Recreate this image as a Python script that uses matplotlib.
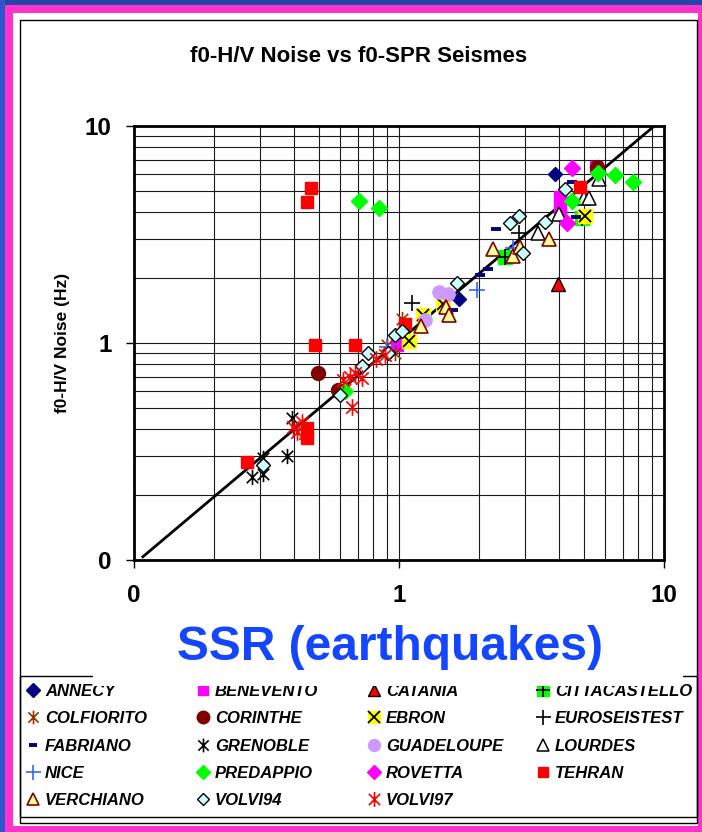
import matplotlib
matplotlib.use('Agg')
import matplotlib.pyplot as plt
from matplotlib.path import Path
from matplotlib.patches import Rectangle
from matplotlib.ticker import LogLocator, NullFormatter

plt.rcParams['font.family'] = ['Liberation Sans', 'DejaVu Sans']

# --- donnees (f0 SSR, f0 H/V) ---
annecy_x = [3.88, 1.68]
annecy_y = [6.0, 1.59]
benevento_x = [5.55, 4.05, 4.05, 0.98]
benevento_y = [6.5, 4.7, 4.1, 0.98]
catania_x = [3.97]
catania_y = [1.88]
citta_x = [2.52, 4.9]
citta_y = [2.49, 3.76]
colfiorito_x = [1.03, 0.90, 0.97]
colfiorito_y = [1.29, 0.98, 0.90]
corinthe_x = [0.495, 5.6, 0.59]
corinthe_y = [0.725, 6.5, 0.607]
ebron_x = [5.03, 1.09, 1.23, 1.47]
ebron_y = [3.85, 1.02, 1.34, 1.51]
euro_x = [1.12, 2.84]
euro_y = [1.53, 3.2]
fabriano_x = [2.33, 4.49, 4.67, 2.17, 2.03, 1.60]
fabriano_y = [3.34, 5.53, 3.82, 2.19, 2.06, 1.42]
grenoble_x = [0.393, 0.377, 0.308, 0.308, 0.278]
grenoble_y = [0.45, 0.301, 0.294, 0.249, 0.242]
guadeloupe_x = [1.42, 1.53, 1.25]
guadeloupe_y = [1.72, 1.69, 1.28]
lourdes_x = [5.68, 4.97, 5.19, 4.03, 3.36]
lourdes_y = [5.7, 4.65, 4.65, 3.93, 3.22]
nice_x = [1.97, 0.90, 2.70]
nice_y = [1.75, 0.96, 2.73]
predappio_x = [0.708, 0.843, 0.625, 5.63, 6.53, 7.64, 4.49]
predappio_y = [4.51, 4.2, 0.60, 6.07, 5.95, 5.53, 4.49]
rovetta_x = [4.49, 4.3]
rovetta_y = [6.38, 3.58]
tehran_x = [0.466, 0.448, 0.482, 0.682, 1.05, 0.449, 0.449, 0.266, 4.8]
tehran_y = [5.2, 4.48, 0.98, 0.98, 1.22, 0.405, 0.364, 0.284, 5.25]
verchiano_x = [3.68, 2.27, 2.70, 2.86, 1.21, 1.51, 1.55]
verchiano_y = [3.01, 2.70, 2.52, 2.78, 1.20, 1.47, 1.34]
volvi94_x = [2.84, 2.62, 3.56, 4.23, 2.94, 1.65, 0.966, 1.03, 0.91, 0.766, 0.723, 0.598, 0.308]
volvi94_y = [3.85, 3.57, 3.62, 5.11, 2.59, 1.90, 1.09, 1.13, 0.90, 0.897, 0.783, 0.575, 0.274]
volvi97_x = [0.663, 0.617, 0.683, 0.723, 0.654, 0.818, 0.887, 0.399, 0.429, 0.442, 0.411]
volvi97_y = [0.506, 0.675, 0.724, 0.687, 0.70, 0.845, 0.877, 0.411, 0.434, 0.384, 0.39]

# droite de tendance (extremites)
trend_x = [0.108, 9.1]
trend_y = [0.1035, 9.9]

W, H = 702, 832
fig = plt.figure(figsize=(W / 100, H / 100), dpi=100)
fig.patch.set_facecolor('#FF33CC')


def rect(x0, y0, x1, y1, **kw):
    # rectangle en pixels (origine en haut a gauche)
    r = Rectangle((x0 / W, 1 - y1 / H), (x1 - x0) / W, (y1 - y0) / H,
                  transform=fig.transFigure, **kw)
    fig.add_artist(r)
    return r


# cadre exterieur bleu / rose / blanc
rect(0, 0, W, 5, facecolor='#2446A8', edgecolor='none', zorder=-3)
rect(0, 0, 5, H, facecolor='#2D55CC', edgecolor='none', zorder=-3)
rect(13, 13, 698, 826, facecolor='white', edgecolor='none', zorder=-2)
rect(20, 20, 697, 823, facecolor='none', edgecolor='black', lw=1, zorder=-1)

# marqueur "etoile" Excel (X + trait vertical)
star = Path([(0, -1), (0, 1), (-0.75, -0.75), (0.75, 0.75), (-0.75, 0.75), (0.75, -0.75)],
            [Path.MOVETO, Path.LINETO] * 3)

ax = fig.add_axes([134 / W, 1 - 560 / H, 530 / W, 434 / H])
ax.set_xscale('log')
ax.set_yscale('log')
ax.set_xlim(0.1, 10)
ax.set_ylim(0.1, 10)

ax.plot(trend_x, trend_y, color='black', lw=2, zorder=2)

handles = {}


def serie(nom, x, y, **kw):
    l, = ax.plot(x, y, linestyle='none', zorder=3, **kw)
    handles[nom] = l
    return l


serie('ANNECY', annecy_x, annecy_y, marker='D', ms=7.5, mfc='#000080', mec='#000080')
serie('BENEVENTO', benevento_x, benevento_y, marker='s', ms=8.5, mfc='#FF00FF', mec='#FF00FF')
serie('CATANIA', catania_x, catania_y, marker='^', ms=10, mfc='#FF0000', mec='black', mew=1)
c1, = ax.plot(citta_x, citta_y, linestyle='none', marker='s', ms=9.5, mfc='#00FF00', mec='#00FF00', zorder=3)
c2, = ax.plot(citta_x, citta_y, linestyle='none', marker='+', ms=11, mec='black', mew=1.3, zorder=3)
handles['CITTACASTELLO'] = (c1, c2)
serie('COLFIORITO', colfiorito_x, colfiorito_y, marker=star, ms=11, mfc='none', mec='#993300', mew=1.2)
serie('CORINTHE', corinthe_x, corinthe_y, marker='o', ms=10, mfc='#800000', mec='#800000')
e1, = ax.plot(ebron_x, ebron_y, linestyle='none', marker='s', ms=10, mfc='#FFFF00', mec='#FFFF00', zorder=3)
e2, = ax.plot(ebron_x, ebron_y, linestyle='none', marker='x', ms=9, mec='black', mew=1.3, zorder=3)
handles['EBRON'] = (e1, e2)
serie('EUROSEISTEST', euro_x, euro_y, marker='+', ms=12, mec='black', mew=1.2)
serie('FABRIANO', fabriano_x, fabriano_y, marker='_', ms=7, mec='#000080', mew=2.8)
serie('GRENOBLE', grenoble_x, grenoble_y, marker=star, ms=11, mfc='none', mec='black', mew=1.2)
serie('GUADELOUPE', guadeloupe_x, guadeloupe_y, marker='o', ms=9.5, mfc='#CC99FF', mec='#CC99FF')
serie('LOURDES', lourdes_x, lourdes_y, marker='^', ms=9.5, mfc='white', mec='black', mew=1.1)
serie('NICE', nice_x, nice_y, marker='+', ms=12, mec='#3366FF', mew=1.2)
serie('PREDAPPIO', predappio_x, predappio_y, marker='D', ms=8, mfc='#00FF00', mec='#00FF00')
serie('ROVETTA', rovetta_x, rovetta_y, marker='D', ms=8, mfc='#FF00FF', mec='#FF00FF')
serie('TEHRAN', tehran_x, tehran_y, marker='s', ms=8.5, mfc='#FF0000', mec='#FF0000')
serie('VERCHIANO', verchiano_x, verchiano_y, marker='^', ms=9.5, mfc='#FFFF99', mec='#800000', mew=1.2)
serie('VOLVI94', volvi94_x, volvi94_y, marker='D', ms=7.2, mfc='#CCFFFF', mec='black', mew=1)
serie('VOLVI97', volvi97_x, volvi97_y, marker=star, ms=12, mfc='none', mec='#FF0000', mew=1.2)

# axes et grille
ax.set_xticks([0.1, 1, 10], ['0', '1', '10'], fontsize=17.5, fontweight='bold')
ax.set_yticks([0.1, 1, 10], ['0', '1', '10'], fontsize=17.5, fontweight='bold')
for a in (ax.xaxis, ax.yaxis):
    a.set_minor_locator(LogLocator(base=10, subs=range(2, 10)))
    a.set_minor_formatter(NullFormatter())
ax.tick_params(which='minor', length=0)
ax.tick_params(which='major', direction='out', length=6, width=1)
ax.tick_params(axis='x', pad=11)
ax.tick_params(axis='y', pad=10)
ax.grid(True, which='both', color='#1a1a1a', lw=0.8)
ax.set_axisbelow(True)
for sp in ax.spines.values():
    sp.set_linewidth(2)

fig.text(359 / W, 1 - 56 / H, 'f0-H/V Noise vs f0-SPR Seismes', ha='center', va='center',
         fontsize=16, fontweight='bold')
fig.text(62 / W, 1 - 343 / H, 'f0-H/V Noise (Hz)', ha='center', va='center', rotation=90,
         fontsize=12.5, fontweight='bold')

# legende : 4 colonnes, remplies ligne par ligne
noms = ['ANNECY', 'BENEVENTO', 'CATANIA', 'CITTACASTELLO', 'COLFIORITO', 'CORINTHE', 'EBRON',
        'EUROSEISTEST', 'FABRIANO', 'GRENOBLE', 'GUADELOUPE', 'LOURDES', 'NICE', 'PREDAPPIO',
        'ROVETTA', 'TEHRAN', 'VERCHIANO', 'VOLVI94', 'VOLVI97']
col_x = [26.3, 196.3, 367.3, 536.3]
for c, x0 in enumerate(col_x):
    sel = noms[c::4]
    leg = fig.legend([handles[n] for n in sel], sel, loc='upper left',
                     bbox_to_anchor=(x0 / W, 1 - 684 / H), frameon=False,
                     borderpad=0, borderaxespad=0, handlelength=0.8, handletextpad=0.32,
                     labelspacing=0.74, markerscale=0.9,
                     prop={'weight': 'bold', 'style': 'italic', 'size': 12})
    leg.set_zorder(5)

rect(20, 676, 697, 817, facecolor='none', edgecolor='black', lw=1, zorder=5)
rect(93, 640, 683, 686, facecolor='white', edgecolor='none', zorder=6)
fig.text(390 / W, 1 - 660 / H, 'SSR (earthquakes)', ha='center', va='baseline',
         fontsize=34.5, fontweight='bold', color='#1446FF', zorder=7)

fig.savefig('out.png', dpi=100, facecolor=fig.get_facecolor())
